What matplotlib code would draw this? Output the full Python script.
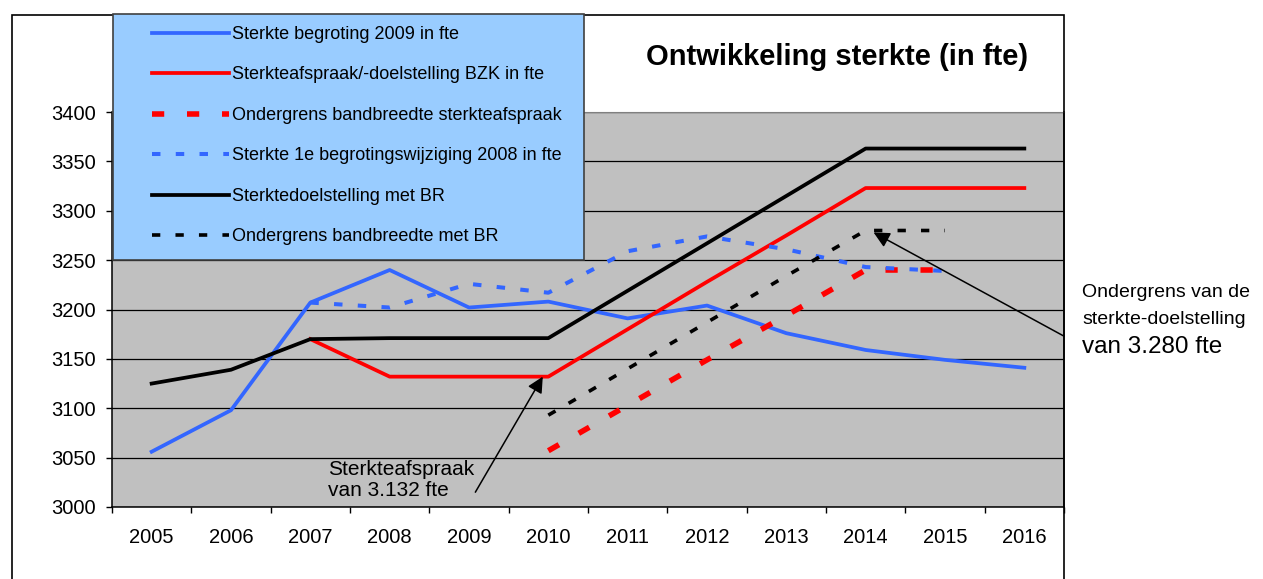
import numpy as np
import matplotlib
matplotlib.use('Agg')
import matplotlib.pyplot as plt
from matplotlib.patches import Rectangle

plt.rcParams['font.family'] = ['Liberation Sans', 'DejaVu Sans']

nan = np.nan
years = ['2005', '2006', '2007', '2008', '2009', '2010',
         '2011', '2012', '2013', '2014', '2015', '2016']

begroting_2009 = [3056, 3098, 3207, 3240, 3202, 3208, 3191, 3204, 3176, 3159, 3149, 3141]
afspraak_bzk = [nan, nan, 3170, 3132, 3132, 3132, 3180, 3228, 3275, 3323, 3323, 3323]
ondergrens_afspraak = [nan, nan, nan, nan, nan, 3057, 3103, 3149, 3194, 3240, 3240, nan]
wijziging_2008 = [nan, nan, 3207, 3202, 3226, 3217, 3259, 3274, 3261, 3243, 3239, nan]
doel_br = [3125, 3139, 3170, 3171, 3171, 3171, 3219, 3267, 3315, 3363, 3363, 3363]
ondergrens_br = [nan, nan, nan, nan, nan, 3093, 3140, 3187, 3234, 3280, 3280, nan]

labels = ['Sterkte begroting 2009 in fte',
          'Sterkteafspraak/-doelstelling BZK in fte',
          'Ondergrens bandbreedte sterkteafspraak',
          'Sterkte 1e begrotingswijziging 2008 in fte',
          'Sterktedoelstelling met BR',
          'Ondergrens bandbreedte met BR']

BLUE = '#3366FF'
RED = '#FF0000'

W, H = 1263, 579
fig = plt.figure(figsize=(W / 100, H / 100), dpi=100)
ax = fig.add_axes([112 / W, 1 - 507 / H, (1064 - 112) / W, (507 - 112) / H])
ax.set_facecolor('#C0C0C0')

x = np.arange(len(years))
handles = []
handles += ax.plot(x, begroting_2009, color=BLUE, lw=2.7)
handles += ax.plot(x, afspraak_bzk, color=RED, lw=2.7)
handles += ax.plot(x, ondergrens_afspraak, color=RED, lw=4, dashes=(2.2, 4.1))
handles += ax.plot(x, wijziging_2008, color=BLUE, lw=2.9, dashes=(2.1, 3.8))
handles += ax.plot(x, doel_br, color='black', lw=2.7)
handles += ax.plot(x, ondergrens_br, color='black', lw=2.6, dashes=(2.3, 4.2))

ax.set_xlim(-0.5, len(years) - 0.5)
ax.set_ylim(3000, 3400)
ax.set_yticks(np.arange(3000, 3401, 50))
ax.set_xticks(x)
ax.set_xticklabels(years)
ax.set_xticks(np.arange(-0.5, len(years), 1), minor=True)
ax.tick_params(axis='x', which='major', length=0, pad=15, labelsize=14.5)
ax.tick_params(axis='x', which='minor', length=4, width=1, direction='out')
ax.tick_params(axis='y', length=4.5, width=1, direction='out', pad=7, labelsize=14.5)
ax.yaxis.grid(True, color='black', lw=0.9)
ax.set_axisbelow(True)
for side in ['left', 'bottom', 'right']:
    ax.spines[side].set_color('black')
    ax.spines[side].set_linewidth(1.1)
ax.spines['top'].set_color('#808080')

# annotations
ax.annotate('', xy=(4.93, 3132), xytext=(4.08, 3015),
            arrowprops=dict(arrowstyle='-|>', mutation_scale=24, lw=1.1,
                            color='black', shrinkA=0, shrinkB=0))
ax.text(2.22, 3027, 'Sterkteafspraak\nvan 3.132 fte', fontsize=15,
        ha='left', va='center', linespacing=1.15)
ax.annotate('', xy=(9.1, 3278), xytext=(11.5, 3173),
            arrowprops=dict(arrowstyle='-|>', mutation_scale=24, lw=1.1,
                            color='black', shrinkA=0, shrinkB=0),
            annotation_clip=False)

fig.text(1082 / W, 1 - 293 / H, 'Ondergrens van de', fontsize=14, ha='left', va='center')
fig.text(1082 / W, 1 - 319 / H, 'sterkte-doelstelling', fontsize=14, ha='left', va='center')
fig.text(1082 / W, 1 - 347 / H, 'van 3.280 fte', fontsize=17.5, ha='left', va='center')

fig.text(837 / W, 1 - 57 / H, 'Ontwikkeling sterkte (in fte)', fontsize=21,
         fontweight='bold', ha='center', va='center')

# chart border and legend box
fig.patches.append(Rectangle((12 / W, -0.1), (1064 - 12) / W, 1.1 - 14.7 / H,
                             transform=fig.transFigure, fill=False,
                             edgecolor='black', lw=1.2, zorder=3))
fig.patches.append(Rectangle((113 / W, 1 - 260 / H), (584 - 113) / W, (260 - 14) / H,
                             transform=fig.transFigure, facecolor='#99CCFF',
                             edgecolor='#404040', lw=1.2, zorder=4))
leg = fig.legend(handles, labels, loc='upper left', bbox_to_anchor=(152 / W, 1 - 26 / H),
                 frameon=False, borderpad=0, borderaxespad=0, handlelength=4.25,
                 handletextpad=0.17, labelspacing=1.3, fontsize=13)
leg.set_zorder(6)

fig.savefig('out.png', dpi=100)
